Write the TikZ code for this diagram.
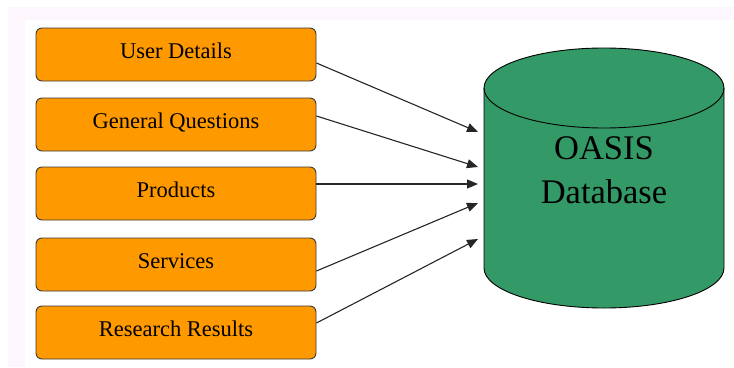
\documentclass[tikz,border=0pt]{standalone}
\usepackage{fontspec}
\setmainfont{Liberation Serif}
\usetikzlibrary{arrows.meta}
\definecolor{boxorange}{HTML}{FF9900}
\definecolor{dbgreen}{HTML}{339966}
\definecolor{framepink}{HTML}{FDF6FD}
\definecolor{edgegray}{HTML}{3A3A3A}
\tikzset{
  inputbox/.style={rectangle, rounded corners=6pt, fill=boxorange, draw=edgegray,
    line width=0.9pt, minimum width=280pt, minimum height=53pt, inner sep=0pt,
    text height=15.5pt, text depth=7.9pt,
    font=\fontsize{22.5}{26}\selectfont, text=black},
  feed/.style={draw=black!85, line width=1.1pt, -{Triangle[length=11pt,width=9pt]}},
}
\begin{document}
\begin{tikzpicture}[x=1pt, y=-1pt]
  \useasboundingbox (0,0) rectangle (734,367);
  % page frame
  \fill[white] (0,0) rectangle (734,367);
  \fill[framepink] (8,7) rectangle (733,367);
  \fill[white] (25,20) rectangle (734,367);

  % database cylinder
  \filldraw[fill=dbgreen, draw=black, line width=0.9pt]
    (484,88) -- (484,268)
    arc[start angle=180, end angle=360, x radius=120pt, y radius=40pt]
    -- (724,88)
    arc[start angle=0, end angle=180, x radius=120pt, y radius=40pt] -- cycle;
  \draw[black, line width=0.9pt]
    (484,88) arc[start angle=180, end angle=360, x radius=120pt, y radius=40pt];
  \node[align=center, font=\fontsize{34.5}{44}\selectfont, text=black] (db) at (604,170)
    {OASIS\\Database};

  % input boxes
  \node[inputbox] (b1) at (176,54.5)  {User Details};
  \node[inputbox] (b2) at (176,124.5) {General Questions};
  \node[inputbox] (b3) at (176,193.5) {Products};
  \node[inputbox] (b4) at (176,264.5) {Services};
  \node[inputbox] (b5) at (176,332.5) {Research Results};

  % arrow tips in front of the cylinder
  \coordinate (t1) at (478,132);
  \coordinate (t2) at (478,167);
  \coordinate (t3) at (478,184);
  \coordinate (t4) at (478,203);
  \coordinate (t5) at (478,239);

  % connectors
  \draw[feed] ([yshift=-8.5pt]b1.east) -- (t1);
  \draw[feed] ([yshift=8.5pt]b2.east) -- (t2);
  \draw[feed] ([yshift=9.5pt]b3.east) -- (t3);
  \draw[feed] ([yshift=-6.5pt]b4.east) -- (t4);
  \draw[feed] ([yshift=9.5pt]b5.east) -- (t5);
\end{tikzpicture}
\end{document}
